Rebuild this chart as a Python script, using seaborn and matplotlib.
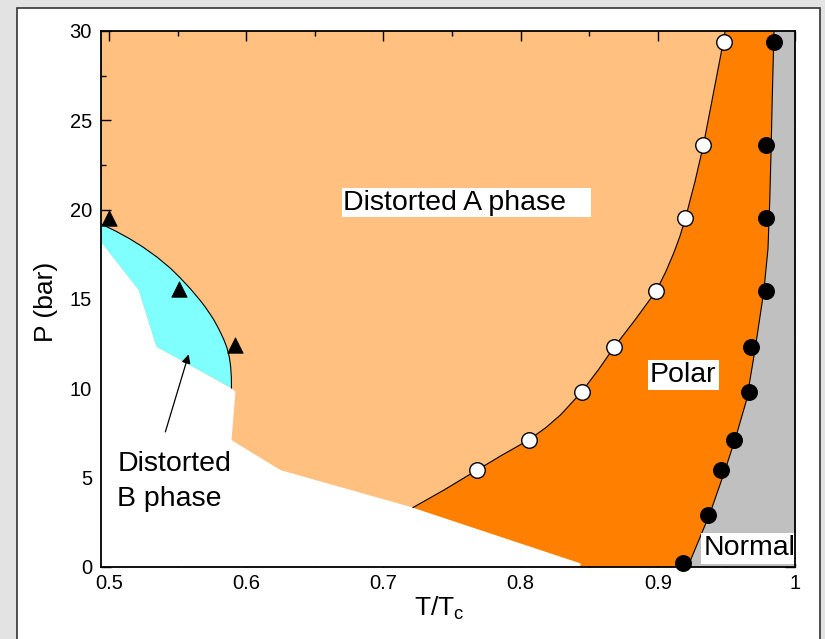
import matplotlib
matplotlib.use("Agg")
import matplotlib.pyplot as plt
from matplotlib.patches import Rectangle
from matplotlib.ticker import MultipleLocator, FuncFormatter
import seaborn as sns

# Measured transition points (T/Tc, P in bar)
ab_T = [0.500, 0.551, 0.592]                      # distorted A -> distorted B
ab_P = [19.5, 15.55, 12.4]
ap_T = [0.768, 0.806, 0.845, 0.868, 0.899, 0.920, 0.933, 0.948]   # distorted A -> polar
ap_P = [5.4, 7.1, 9.8, 12.3, 15.45, 19.5, 23.6, 29.4]
pn_T = [0.9186, 0.9368, 0.9459, 0.9558, 0.9667, 0.9677, 0.9786, 0.9786, 0.9786, 0.9847]  # polar -> normal
pn_P = [0.22, 2.9, 5.4, 7.1, 9.8, 12.3, 15.45, 19.5, 23.6, 29.4]

# Guide lines along the phase boundaries
ab_line_T = [0.4942, 0.505, 0.515, 0.525, 0.535, 0.545, 0.552, 0.5595, 0.5666,
             0.570, 0.5735, 0.5763, 0.580, 0.5836, 0.586, 0.5877, 0.5887, 0.5892, 0.5893]
ab_line_P = [19.2, 18.79, 18.37, 17.89, 17.34, 16.70, 16.17, 15.55, 14.9,
             14.56, 14.17, 13.84, 13.32, 12.74, 12.26, 11.75, 11.2, 10.6, 10.0]
ap_line_T = [0.7215, 0.7443, 0.768, 0.7865, 0.806, 0.8186, 0.8291, 0.8369, 0.8446,
             0.8569, 0.8682, 0.8837, 0.8989, 0.9057, 0.9118, 0.9161, 0.9201, 0.9272,
             0.9332, 0.9400, 0.9465, 0.9477, 0.9491]
ap_line_P = [3.31, 4.3, 5.4, 6.25, 7.1, 7.8, 8.5, 9.15, 9.8,
             11.05, 12.3, 13.85, 15.45, 16.5, 17.6, 18.5, 19.5, 21.6,
             23.6, 26.3, 28.9, 29.4, 30.0]
pn_line_T = [0.9219, 0.9381, 0.949, 0.957, 0.9648, 0.9709, 0.9773, 0.9803, 0.9816,
             0.9826, 0.9834, 0.9847]
pn_line_P = [0.0, 3.0, 5.4, 7.3, 9.36, 12.17, 15.45, 17.79, 20.5, 23.4, 26.2, 30.0]

# Lower edge of the explored region (no data below it)
edge_T = [0.4942, 0.5217, 0.5346, 0.5893, 0.5922, 0.5893, 0.625, 0.7215, 0.8437, 0.8437]
edge_P = [18.19, 15.49, 12.32, 9.99, 9.80, 7.09, 5.41, 3.31, 0.19, 0.0]

T_MIN, T_MAX = 0.4942, 1.0
P_MAX = 30.0

sns.set_theme(style="ticks")
plt.rcParams["font.family"] = ["Liberation Sans", "DejaVu Sans"]
plt.rcParams["mathtext.fontset"] = "custom"
plt.rcParams["mathtext.rm"] = "Liberation Sans"
plt.rcParams["mathtext.it"] = "Liberation Sans"

C_A = "#FFC080"
C_POLAR = "#FF8000"
C_B = "#80FFFF"
C_NORMAL = "#C0C0C0"

fig = plt.figure(figsize=(8.25, 6.39), dpi=100)
fig.patch.set_facecolor("#e3e3e3")
fig.patches.append(Rectangle((17 / 825, -0.05), 803 / 825, 1.05 - 8 / 639,
                             transform=fig.transFigure, facecolor="white",
                             edgecolor="#333333", lw=1.2, zorder=-10))

ax = fig.add_axes([101 / 825, 1 - 566.7 / 639, 694 / 825, 535.7 / 639])
ax.set_facecolor(C_A)

# Phase regions
ax.fill(edge_T + [T_MIN], edge_P + [0.0], color="white", lw=0, zorder=1)
ax.fill(ab_line_T + edge_T[:3][::-1], ab_line_P + edge_P[:3][::-1],
        color=C_B, lw=0, zorder=1)
ax.fill(ap_line_T + pn_line_T[::-1] + [edge_T[-1], edge_T[-2]],
        ap_line_P + pn_line_P[::-1] + [edge_P[-1], edge_P[-2]],
        color=C_POLAR, lw=0, zorder=1)
ax.fill(pn_line_T + [T_MAX, T_MAX], pn_line_P + [P_MAX, 0.0],
        color=C_NORMAL, lw=0, zorder=1)

# Boundary lines
for lt, lp in [(ab_line_T, ab_line_P), (ap_line_T, ap_line_P), (pn_line_T, pn_line_P)]:
    sns.lineplot(x=lt, y=lp, sort=False, estimator=None, color="black",
                 lw=0.8, ax=ax, zorder=2)

# Data points
sns.scatterplot(x=ab_T, y=ab_P, marker="^", s=125, color="black",
                edgecolor="black", linewidth=0.5, ax=ax, zorder=4, clip_on=False)
sns.scatterplot(x=ap_T, y=ap_P, marker="o", s=125, color="white",
                edgecolor="black", linewidth=1.0, ax=ax, zorder=4)
sns.scatterplot(x=pn_T, y=pn_P, marker="o", s=125, color="black",
                edgecolor="black", linewidth=1.0, ax=ax, zorder=4, clip_on=False)

# Region labels
lab_kw = dict(fontsize=20.5, color="black", zorder=5)
box = dict(boxstyle="square,pad=0.05", facecolor="white", edgecolor="none")
ax.text(0.6708, 20.0, "Distorted A phase   ", ha="left", va="baseline", bbox=box, **lab_kw)
ax.text(0.8944, 10.34, "Polar", ha="left", va="baseline",
        bbox=dict(boxstyle="square,pad=0.08", facecolor="white", edgecolor="none"), **lab_kw)
ax.text(0.9332, 0.63, "Normal", ha="left", va="baseline",
        bbox=dict(boxstyle="square,pad=0.08", facecolor="white", edgecolor="none"), **lab_kw)
ax.text(0.506, 5.38, "Distorted", ha="left", va="baseline", **lab_kw)
ax.text(0.506, 3.41, "B phase", ha="left", va="baseline", **lab_kw)
ax.annotate("", xy=(0.5581, 11.89), xytext=(0.5411, 7.55),
            arrowprops=dict(arrowstyle="-|>", color="black", lw=0.9,
                            mutation_scale=13, shrinkA=0, shrinkB=0), zorder=5)

# Axes, ticks and labels
ax.set_xlim(T_MIN, T_MAX)
ax.set_ylim(0, P_MAX)
ax.xaxis.set_major_locator(MultipleLocator(0.1))
ax.xaxis.set_minor_locator(MultipleLocator(0.05))
ax.yaxis.set_major_locator(MultipleLocator(5))
ax.yaxis.set_minor_locator(MultipleLocator(2.5))
ax.xaxis.set_major_formatter(FuncFormatter(lambda v, _: f"{v:g}"))
ax.yaxis.set_major_formatter(FuncFormatter(lambda v, _: f"{v:g}"))
ax.tick_params(which="both", direction="in", top=True, right=True,
               color="black", width=1.0, labelsize=14.5, labelcolor="black")
ax.tick_params(which="major", length=7.2)
ax.tick_params(which="minor", length=3.8)
ax.tick_params(axis="x", which="major", pad=5.5)
ax.tick_params(axis="y", which="major", pad=6.5)
for sp in ax.spines.values():
    sp.set_visible(True)
    sp.set_color("black")
    sp.set_linewidth(1.3)
    sp.set_zorder(6)

ax.set_xlabel(r"T/T$_{\rm c}$", fontsize=19, color="black")
ax.set_ylabel("P (bar)", fontsize=19, color="black")
ax.xaxis.set_label_coords((439 - 101) / 694, -0.052)
ax.yaxis.set_label_coords(-0.062, 0.494)

fig.savefig("out.png", dpi=100, facecolor=fig.get_facecolor())
